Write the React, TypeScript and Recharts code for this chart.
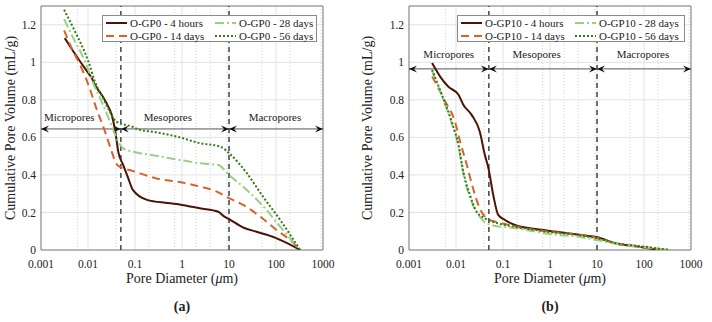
import React from 'react';
import { LineChart, Line, XAxis, YAxis, CartesianGrid, ReferenceLine, ReferenceDot, ReferenceArea } from 'recharts';

type Pt = { d: number; v: number };

const toPts = (rows: number[][]): Pt[] => rows.map(([d, v]) => ({ d, v }));

// pore diameter (um), cumulative pore volume (mL/g)
const gp0_4h = toPts([
  [0.0032, 1.129], [0.0049, 1.058], [0.0068, 1.004], [0.0102, 0.942], [0.012, 0.916], [0.014, 0.88],
  [0.0195, 0.827], [0.027, 0.764], [0.032, 0.72], [0.037, 0.649], [0.04, 0.596], [0.044, 0.524],
  [0.056, 0.453], [0.072, 0.382], [0.09, 0.32], [0.18, 0.267], [0.5, 0.25], [1, 0.24], [2.4, 0.222],
  [5.9, 0.204], [8, 0.178], [10, 0.165], [20, 0.12], [40, 0.096], [95, 0.066], [330, 0],
]);
const gp0_14d = toPts([
  [0.0031, 1.17], [0.0046, 1.07], [0.0073, 0.969], [0.0102, 0.88], [0.015, 0.756], [0.023, 0.631],
  [0.032, 0.524], [0.04, 0.46], [0.05, 0.44], [0.08, 0.425], [0.3, 0.38], [1, 0.36], [2.4, 0.338],
  [5.5, 0.311], [10, 0.276], [20, 0.24], [46, 0.178], [102, 0.107], [200, 0.053], [325, 0],
]);
const gp0_28d = toPts([
  [0.0031, 1.23], [0.0053, 1.11], [0.0087, 1.004], [0.0129, 0.889], [0.0195, 0.791], [0.0294, 0.684],
  [0.044, 0.578], [0.056, 0.542], [0.128, 0.516], [0.21, 0.507], [0.9, 0.48], [2.4, 0.462],
  [5.9, 0.453], [10, 0.4], [24, 0.32], [63, 0.213], [123, 0.124], [325, 0],
]);
const gp0_56d = toPts([
  [0.0031, 1.28], [0.0053, 1.164], [0.0102, 1.004], [0.014, 0.898], [0.021, 0.809], [0.029, 0.738],
  [0.04, 0.684], [0.085, 0.658], [0.128, 0.64], [0.24, 0.63], [0.9, 0.6], [2.4, 0.569], [6.5, 0.551],
  [10, 0.516], [24, 0.409], [53, 0.284], [123, 0.16], [325, 0],
]);

const gp10_4h = toPts([
  [0.0031, 0.996], [0.0046, 0.924], [0.0068, 0.871], [0.0113, 0.827], [0.0144, 0.773], [0.0215, 0.72],
  [0.032, 0.631], [0.041, 0.507], [0.049, 0.436], [0.062, 0.293], [0.079, 0.187], [0.11, 0.16],
  [0.18, 0.133], [0.5, 0.112], [1.28, 0.098], [2.4, 0.089], [6.5, 0.075], [10.3, 0.068], [24, 0.036],
  [74, 0.018], [150, 0.006], [200, 0],
]);
const gp10_14d = toPts([
  [0.0031, 0.925], [0.0059, 0.791], [0.0095, 0.684], [0.0122, 0.578], [0.017, 0.453], [0.023, 0.329],
  [0.032, 0.222], [0.045, 0.169], [0.067, 0.151], [0.11, 0.138], [0.3, 0.115], [1.25, 0.095],
  [3, 0.085], [6.5, 0.074], [10, 0.064], [24, 0.037], [74, 0.02], [200, 0.005], [260, 0],
]);
const gp10_28d = toPts([
  [0.0031, 0.955], [0.005, 0.82], [0.0081, 0.675], [0.0113, 0.55], [0.0143, 0.405], [0.0198, 0.28],
  [0.03, 0.187], [0.04, 0.15], [0.058, 0.133], [0.18, 0.116], [1.25, 0.082], [4, 0.07], [10, 0.053],
  [34, 0.027], [100, 0.015], [355, 0],
]);
const gp10_56d = toPts([
  [0.0031, 0.96], [0.005, 0.827], [0.0081, 0.684], [0.0113, 0.56], [0.0143, 0.418], [0.0198, 0.293],
  [0.0274, 0.204], [0.041, 0.169], [0.079, 0.142], [0.18, 0.124], [1.25, 0.093], [4, 0.08], [10, 0.062],
  [30, 0.033], [100, 0.018], [355, 0],
]);

const xTicks = [0.001, 0.01, 0.1, 1, 10, 100, 1000];
const yTicks = [0, 0.2, 0.4, 0.6, 0.8, 1, 1.2];
const decades = [0.001, 0.01, 0.1, 1, 10, 100];
const minorTicks = decades.flatMap((p) => [2, 3, 4, 5, 6, 7, 8, 9].map((m) => +(m * p).toPrecision(3)));

const boundaries = [0.05, 10];
const regionNames = ['Micropores', 'Mesopores', 'Macropores'];
const regionSpans = [
  [0.001, 0.05],
  [0.05, 10],
  [10, 1000],
];

const seriesSuffix = ['4 hours', '14 days', '28 days', '56 days'];
const seriesStyle = [
  { color: '#4a1504', dash: undefined },
  { color: '#d9622b', dash: '8 5' },
  { color: '#9ccf86', dash: '9 3 2 3' },
  { color: '#2f7d14', dash: '2 2' },
];

const FONT = '"Liberation Serif", "Times New Roman", serif';
const TEXT = '#222';

function ArrowSeg(props: any) {
  const { x1, y1, x2, y2 } = props;
  const head = (x: number, y: number, dir: number) =>
    `${x},${y} ${x - 8 * dir},${y - 3.5} ${x - 5 * dir},${y} ${x - 8 * dir},${y + 3.5}`;
  return (
    <g>
      <line x1={x1} y1={y1} x2={x2} y2={y2} stroke="#555" strokeWidth={1} />
      <polygon points={head(x1, y1, -1)} fill="#111" />
      <polygon points={head(x2, y2, 1)} fill="#111" />
    </g>
  );
}

type PanelProps = {
  left: number;
  width: number;
  prefix: string;
  data: Pt[][];
  arrowY: number;
  labelY: number;
  labelX: number[];
  legendLeft: number;
  legendWidth: number;
  legendCol: number;
  yLabelX: number;
  tag: string;
};

function Panel({
  left, width, prefix, data, arrowY, labelY, labelX, legendLeft, legendWidth, legendCol, yLabelX, tag,
}: PanelProps) {
  const plotLeft = 41;
  const plotRight = width - 41 - 282;
  const center = plotLeft + 141;
  return (
    <div style={{ position: 'absolute', left, top: 0, width, height: 322 }}>
      <LineChart width={width} height={290} margin={{ top: 6, right: plotRight, left: 0, bottom: 0 }}>
        <CartesianGrid horizontal={false} verticalValues={minorTicks} stroke="#d4d4d4" strokeDasharray="1 2" />
        <CartesianGrid stroke="#e2e2e2" />
        <XAxis
          dataKey="d"
          type="number"
          scale="log"
          domain={[0.001, 1000]}
          ticks={xTicks}
          allowDataOverflow
          height={40}
          tickLine={false}
          axisLine={false}
          tickMargin={4}
          tick={{ fontSize: 11.5, fill: TEXT, fontFamily: FONT }}
        />
        <YAxis
          dataKey="v"
          type="number"
          domain={[0, 1.3]}
          ticks={yTicks}
          allowDataOverflow
          width={41}
          tickLine={false}
          axisLine={false}
          tickSize={3}
          tickMargin={2}
          tick={{ fontSize: 11.5, fill: TEXT, fontFamily: FONT }}
        />
        {boundaries.map((b) => (
          <ReferenceLine key={b} x={b} stroke="#444" strokeWidth={1.5} strokeDasharray="5 4" />
        ))}
        {regionSpans.map(([a, b], i) => (
          <ReferenceLine
            key={regionNames[i]}
            segment={[
              { x: a, y: arrowY },
              { x: b, y: arrowY },
            ]}
            shape={ArrowSeg}
          />
        ))}
        {regionNames.map((name, i) => (
          <ReferenceDot
            key={name}
            x={labelX[i]}
            y={labelY}
            r={0}
            fill="none"
            stroke="none"
            label={{ value: name, position: 'center', fontSize: 11, fill: TEXT, fontFamily: FONT }}
          />
        ))}
        {data.map((pts, i) => (
          <Line
            key={seriesSuffix[i]}
            data={pts}
            dataKey="v"
            name={`${prefix} - ${seriesSuffix[i]}`}
            type="monotone"
            stroke={seriesStyle[i].color}
            strokeWidth={2}
            strokeDasharray={seriesStyle[i].dash}
            dot={false}
            isAnimationActive={false}
          />
        ))}
        <ReferenceArea x1={0.001} x2={1000} y1={0} y2={1.3} fill="none" stroke="#808080" strokeWidth={1} />
      </LineChart>

      {/* legend box, two columns */}
      <div
        style={{
          position: 'absolute',
          left: legendLeft,
          top: 15,
          width: legendWidth,
          height: 27,
          boxSizing: 'border-box',
          border: '1px solid #8a8a8a',
          background: '#fff',
          fontFamily: FONT,
          fontSize: 11,
          color: TEXT,
          lineHeight: '12px',
          whiteSpace: 'nowrap',
        }}
      >
        {seriesSuffix.map((s, i) => (
          <div
            key={s}
            style={{
              position: 'absolute',
              left: 2 + Math.floor(i / 2) * legendCol,
              top: 1 + (i % 2) * 12.5,
              display: 'flex',
              alignItems: 'center',
            }}
          >
            <svg width={23} height={8} style={{ marginRight: 2 }}>
              <line
                x1={1}
                y1={4}
                x2={22}
                y2={4}
                stroke={seriesStyle[i].color}
                strokeWidth={2}
                strokeDasharray={seriesStyle[i].dash}
              />
            </svg>
            <span>{`${prefix} - ${s}`}</span>
          </div>
        ))}
      </div>

      <div
        style={{
          position: 'absolute',
          left: yLabelX - 120,
          top: 128 - 9,
          width: 240,
          height: 18,
          textAlign: 'center',
          transform: 'rotate(-90deg)',
          fontFamily: FONT,
          fontSize: 14,
          color: TEXT,
          lineHeight: '18px',
        }}
      >
        Cumulative Pore Volume (mL/g)
      </div>
      <div
        style={{
          position: 'absolute',
          left: center - 100,
          top: 270,
          width: 200,
          textAlign: 'center',
          fontFamily: FONT,
          fontSize: 14,
          color: TEXT,
          lineHeight: '18px',
        }}
      >
        Pore Diameter (<i>μ</i>m)
      </div>
      <div
        style={{
          position: 'absolute',
          left: center - 50,
          top: 298,
          width: 100,
          textAlign: 'center',
          fontFamily: FONT,
          fontSize: 14,
          fontWeight: 'bold',
          color: TEXT,
          lineHeight: '18px',
        }}
      >
        {tag}
      </div>
    </div>
  );
}

export default function App() {
  return (
    <div
      style={{ position: 'absolute', left: 0, top: 0, width: 712, height: 322, background: '#fff', overflow: 'hidden' }}
    >
      <Panel
        left={0}
        width={356}
        prefix="O-GP0"
        data={[gp0_4h, gp0_14d, gp0_28d, gp0_56d]}
        arrowY={0.645}
        labelY={0.71}
        labelX={[0.004, 0.5, 95]}
        legendLeft={102}
        legendWidth={215}
        legendCol={109}
        yLabelX={11}
        tag="(a)"
      />
      <Panel
        left={368}
        width={344}
        prefix="O-GP10"
        data={[gp10_4h, gp10_14d, gp10_28d, gp10_56d]}
        arrowY={0.965}
        labelY={1.045}
        labelX={[0.007, 0.52, 95]}
        legendLeft={89}
        legendWidth={228}
        legendCol={114}
        yLabelX={0}
        tag="(b)"
      />
    </div>
  );
}
